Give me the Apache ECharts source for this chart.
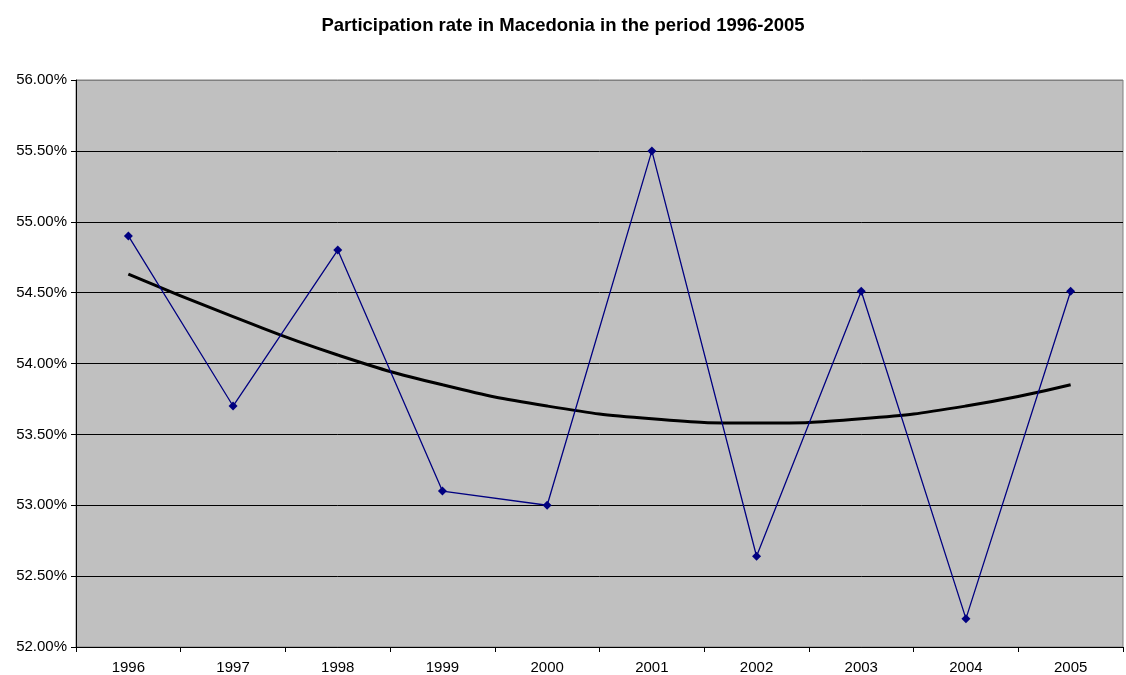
<!DOCTYPE html>
<html>
<head>
<meta charset="utf-8">
<script src="https://cdn.jsdelivr.net/npm/echarts@6/dist/echarts.min.js"></script>
<style>
  html, body { margin: 0; padding: 0; background: #fff; }
  #chart { width: 1126px; height: 675px; }
</style>
</head>
<body>
<div id="chart"></div>
<script>
// data
var years = ['1996', '1997', '1998', '1999', '2000', '2001', '2002', '2003', '2004', '2005'];
var rate = [54.90, 53.70, 54.80, 53.10, 53.00, 55.50, 52.64, 54.51, 52.20, 54.51];
// polynomial trend line (as drawn)
var trend = [54.63, 54.33, 54.06, 53.85, 53.70, 53.61, 53.58, 53.61, 53.70, 53.85];

var chart = echarts.init(document.getElementById('chart'));

var option = {
  animation: false,
  backgroundColor: '#fff',
  title: {
    text: 'Participation rate in Macedonia in the period 1996-2005',
    left: 'center',
    top: 11,
    textStyle: { fontFamily: 'Liberation Sans', fontSize: 18.5, fontWeight: 'bold', color: '#000' }
  },
  grid: {
    left: 76, right: 3, top: 80, bottom: 28,
    show: true,
    backgroundColor: '#c0c0c0',
    borderColor: '#808080',
    borderWidth: 1
  },
  xAxis: {
    type: 'category',
    data: years,
    boundaryGap: true,
    axisLine: { lineStyle: { color: '#000', width: 1 } },
    axisTick: { show: true, length: 5, lineStyle: { color: '#000' } },
    axisLabel: { fontFamily: 'Liberation Sans', fontSize: 15, color: '#000', margin: 13 },
    splitLine: { show: false }
  },
  yAxis: {
    type: 'value',
    min: 52,
    max: 56,
    interval: 0.5,
    axisLine: { show: true, lineStyle: { color: '#000', width: 1 } },
    axisTick: { show: true, length: 5, lineStyle: { color: '#000' } },
    axisLabel: {
      fontFamily: 'Liberation Sans', fontSize: 15, color: '#000', margin: 9,
      formatter: function (v) { return v.toFixed(2) + '%'; }
    },
    splitLine: {
      show: true,
      lineStyle: { color: ['#000', '#000', '#000', '#000', '#000', '#000', '#000', '#000', '#808080'], width: 1 }
    }
  },
  series: [
    {
      name: 'Participation rate',
      type: 'line',
      data: rate,
      symbol: 'diamond',
      symbolSize: 9,
      itemStyle: { color: '#000080' },
      lineStyle: { color: '#000080', width: 1.3 },
      z: 3
    },
    {
      name: 'Trend',
      type: 'line',
      data: trend,
      smooth: 0.5,
      symbol: 'none',
      lineStyle: { color: '#000', width: 3 },
      z: 2
    }
  ]
};

chart.setOption(option, true);
</script>
</body>
</html>
